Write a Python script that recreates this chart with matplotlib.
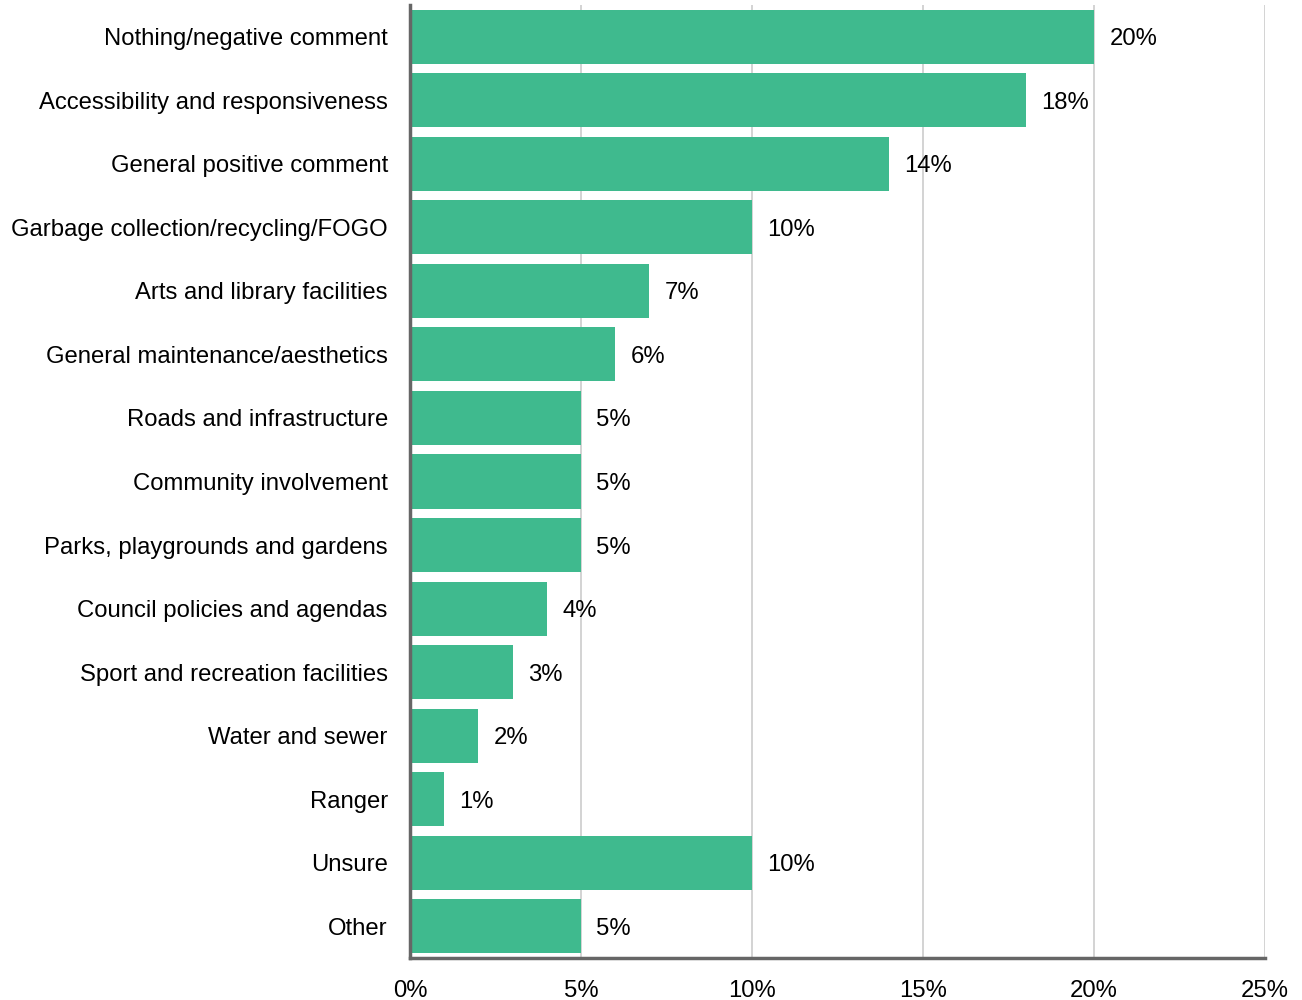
import matplotlib
matplotlib.use("Agg")
import matplotlib.pyplot as plt
from matplotlib.ticker import FuncFormatter

plt.rcParams['font.family'] = ['Liberation Sans', 'DejaVu Sans']

categories = [
    "Nothing/negative comment",
    "Accessibility and responsiveness",
    "General positive comment",
    "Garbage collection/recycling/FOGO",
    "Arts and library facilities",
    "General maintenance/aesthetics",
    "Roads and infrastructure",
    "Community involvement",
    "Parks, playgrounds and gardens",
    "Council policies and agendas",
    "Sport and recreation facilities",
    "Water and sewer",
    "Ranger",
    "Unsure",
    "Other",
]
values = [20, 18, 14, 10, 7, 6, 5, 5, 5, 4, 3, 2, 1, 10, 5]
x_ticks = [0, 5, 10, 15, 20, 25]

FS = 17.2

fig = plt.figure(figsize=(13.02, 10), dpi=100)
ax = fig.add_axes([0.3149, 0.042, 0.6567, 0.953])

pos = list(range(len(categories)))
ax.barh(pos, values, height=0.85, color="#3FBA8E", zorder=3)

for p, v in zip(pos, values):
    ax.text(v + 0.45, p, f"{v}%", va="center_baseline", ha="left",
            fontsize=FS, color="black", zorder=4)

ax.set_ylim(len(categories) - 0.5, -0.5)
ax.set_xlim(0, 25)
ax.set_yticks(pos)
ax.set_yticklabels(categories, fontsize=FS, va="center_baseline")
ax.set_xticks(x_ticks)
ax.xaxis.set_major_formatter(FuncFormatter(lambda x, _: f"{x:.0f}%"))
ax.tick_params(axis="x", length=0, labelsize=FS, pad=16)
ax.tick_params(axis="y", length=0, pad=16)

ax.grid(axis="x", color="#cccccc", linewidth=1.2, zorder=0)
for s in ["top", "right"]:
    ax.spines[s].set_visible(False)
for s in ["left", "bottom"]:
    ax.spines[s].set_color("#666666")
    ax.spines[s].set_linewidth(2.5)
    ax.spines[s].set_zorder(5)

fig.savefig("out.png", dpi=100)
